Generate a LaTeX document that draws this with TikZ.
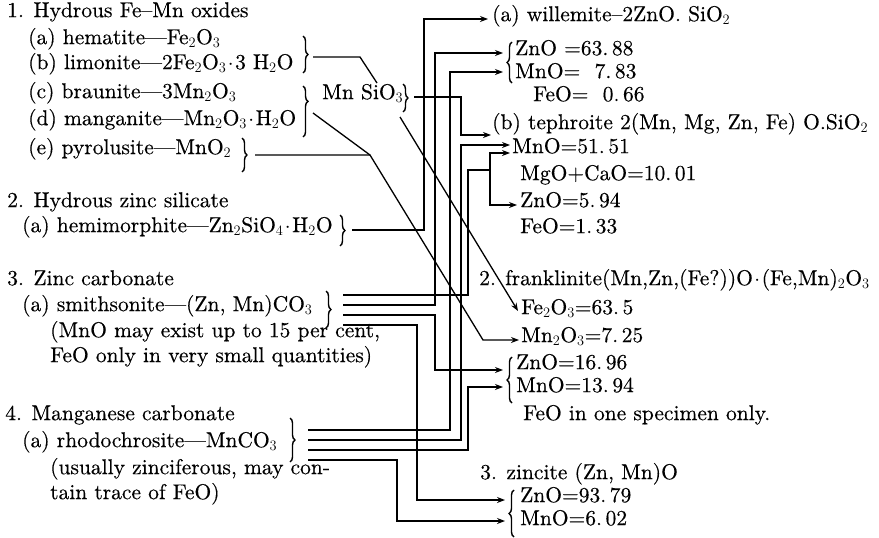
\documentclass[tikz,border=0pt]{standalone}
\usepackage{fontspec}
\newfontfamily\rf{lmroman10-regular.otf}[Ligatures=TeX,FakeBold=0.35]
\usetikzlibrary{arrows.meta,decorations.pathreplacing}
\newcommand{\sbs}[1]{$_{#1}$}
\newcommand{\cd}{\hspace{1.5pt}$\cdot$\hspace{1.5pt}}
\begin{document}
\begin{tikzpicture}[x=1pt,y=-1pt,
  every node/.style={inner sep=0pt},
  txt/.style={anchor=mid west,font=\rf\fontsize{21.5}{26}\selectfont},
  ln/.style={line width=1.3pt,line join=miter},
  ar/.style={ln,-{Stealth[length=8pt,width=6pt]}},
  brc/.style={decorate,decoration={brace,amplitude=5pt},line width=1.4pt},
]
\useasboundingbox[fill=white] (0,0) rectangle (879,538);

% ---------- left column ----------
\node[txt] (t1) at (7,15) {1. Hydrous Fe--Mn oxides};
\node[txt] (hem) at (28,42) {(a) hematite---Fe\sbs2O\sbs3};
\node[txt] (lim) at (28,67) {(b) limonite---2Fe\sbs2O\sbs3\cd3 H\sbs2O};
\node[txt] (bra) at (28,96) {(c) braunite---3Mn\sbs2O\sbs3};
\node[txt] (man) at (28,123) {(d) manganite---Mn\sbs2O\sbs3\cd H\sbs2O};
\node[txt] (pyr) at (28,152) {(e) pyrolusite---MnO\sbs2};
\node[txt] (mns) at (322,97) {Mn SiO\sbs3};

\node[txt] (t2) at (7,205) {2. Hydrous zinc silicate};
\node[txt] (hmo) at (22,230) {(a) hemimorphite---Zn\sbs2SiO\sbs4\cd H\sbs2O};

\node[txt] (t3) at (7,283) {3. Zinc carbonate};
\node[txt] (smi) at (22,309) {(a) smithsonite---(Zn, Mn)CO\sbs3};
\node[txt] (smn1) at (50,335) {(MnO may exist up to 15 per cent,};
\node[txt] (smn2) at (50,360) {FeO only in very small quantities)};

\node[txt] (t4) at (5,418) {4. Manganese carbonate};
\node[txt] (rho) at (22,445) {(a) rhodochrosite---MnCO\sbs3};
\node[txt] (rhn1) at (50,472) {(usually zinciferous, may con-};
\node[txt] (rhn2) at (50,497) {tain trace of FeO)};

% ---------- right column ----------
\node[txt] (wil) at (492,19) {(a) willemite--2ZnO. SiO\sbs2};
\node[txt] (w1) at (515,53) {ZnO =63.\,88};
\node[txt] (w2) at (515,76) {MnO=\ \ 7.\,83};
\node[txt] (w3) at (533,99) {FeO=\ \ 0.\,66};
\node[txt] (tep) at (492,127) {(b) tephroite 2(Mn, Mg, Zn, Fe) O.SiO\sbs2};
\node[txt] (t1v) at (512,151) {MnO=51.\,51};
\node[txt] (t2v) at (520,178) {MgO+CaO=10.\,01};
\node[txt] (t3v) at (520,205) {ZnO=5.\,94};
\node[txt] (t4v) at (520,231) {FeO=1.\,33};
\node[txt] (fr0) at (479,283) {2.};
\node[txt] (fra) at (505,283) {franklinite(Mn,Zn,(Fe?))O\cd(Fe,Mn)\sbs2O\sbs3};
\node[txt] (f1) at (521,312) {Fe\sbs2O\sbs3=63.\,5};
\node[txt] (f2) at (521,340) {Mn\sbs2O\sbs3=7.\,25};
\node[txt] (f3) at (516,367) {ZnO=16.\,96};
\node[txt] (f4) at (516,390) {MnO=13.\,94};
\node[txt] (f5) at (523,418) {FeO in one specimen only.};
\node[txt] (zin) at (480,477) {3. zincite (Zn, Mn)O};
\node[txt] (z1) at (520,500) {ZnO=93.\,79};
\node[txt] (z2) at (520,523) {MnO=6.\,02};

% ---------- braces ----------
\draw[brc] (303,36) -- (303,73);
\draw[brc,decoration={aspect=0.3}] (303,86) -- (303,137);
\draw[brc] (242,138) -- (242,172);
\draw[brc] (403,84) -- (403,112);
\draw[brc] (340,215) -- (340,246);
\draw[brc] (326,291) -- (326,328);
\draw[brc] (290,418) -- (290,462);
\draw[brc] (512,83) -- (512,42);
\draw[brc] (512,403) -- (512,357);
\draw[brc] (514,537) -- (514,490);

% ---------- connector anchors ----------
\coordinate (pAB) at (313,57);
\coordinate (pCD) at (313,113);
\coordinate (pE) at (255,155);
\coordinate (pM) at (414,97);
\coordinate (pM2) at (400,117);
\coordinate (pH) at (352,230);
\coordinate (s1) at (343,295);
\coordinate (s2) at (343,305);
\coordinate (s3) at (343,315);
\coordinate (s4) at (343,325);
\coordinate (r1) at (308,430);
\coordinate (r2) at (308,440);
\coordinate (r3) at (308,450);
\coordinate (r4) at (308,460);
\coordinate (join) at (370,155);
\coordinate (fork) at (490,170);

% ---------- connectors ----------
\draw[ln] (pAB) -- (360,57) -- (377,83);
\draw[ln] (pCD) -- (join);
\draw[ar] (pE) -- (join) -- (483,340) -- (519,340);
\draw[ar] (pM) -- (461,97) -- (461,135) -- (491,135);
\draw[ar] (pM2) -- (518,311);
\draw[ar] (pH) -- (424,230) -- (424,19) -- (488,19);
\draw[ln] (s1) -- (468,295) -- (468,170) -- (fork);
\draw[ar] (fork) |- (510,153);
\draw[ar] (fork) |- (517,205);
\draw[ar] (s2) -- (435,305) -- (435,53) -- (503,53);
\draw[ar] (s3) -- (435,315) -- (435,370) -- (503,370);
\draw[ar] (s4) -- (417,325) -- (417,500) -- (505,500);
\draw[ar] (r1) -- (450,430) -- (450,72) -- (503,72);
\draw[ar] (r2) -- (461,440) -- (461,145) -- (510,145);
\draw[ar] (r3) -- (468,450) -- (468,387) -- (503,387);
\draw[ar] (r4) -- (397,460) -- (397,521) -- (505,521);
\end{tikzpicture}
\end{document}
